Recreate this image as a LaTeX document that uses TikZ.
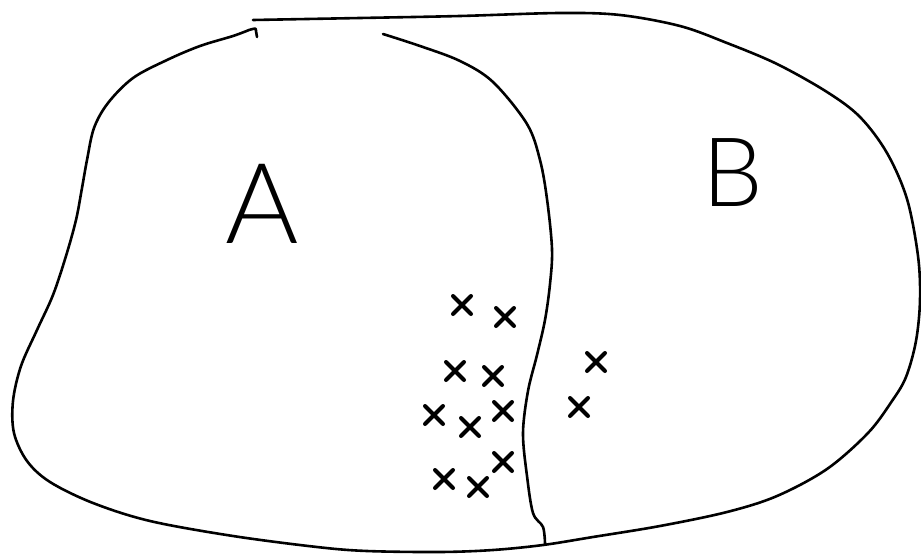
\documentclass[tikz,border=0pt]{standalone}
\usepackage{fontspec}
\newfontfamily\sketchfont{Lato Light}
\usetikzlibrary{shapes.misc}

\begin{document}
\begin{tikzpicture}[
  x=0.5pt, y=-0.5pt, line width=1.3pt, line cap=round, line join=round,
  region/.style = {font=\sketchfont\fontsize{56}{60}\selectfont, inner sep=0pt},
  crossmark/.style = {draw, cross out, line width=2pt, minimum size=7pt, inner sep=0pt},
]
  \useasboundingbox (0,0) rectangle (921,557);

  % outer boundary, open at the top left
  \draw plot[smooth, tension=0.55] coordinates {
    (253,20) (360,18) (460,16) (560,13) (620,15) (680,26) (727,43) (777,64)
    (827,92) (860,117) (887,153) (907,199) (918,256) (920,300) (916,341)
    (906,377) (892,401) (868,433) (827,469) (777,496) (727,512) (660,526)
    (593,537) (543,545) (493,550) (440,552) (367,551) (317,547) (233,536)
    (150,521) (93,503) (50,482) (27,461) (14,433) (13,401) (21,366) (37,330)
    (53,295) (66,256) (76,220) (82,188) (87,160) (94,128) (108,103) (133,78)
    (167,60) (200,46) (233,36) (249,30)}
    .. controls (256,28) .. (256,31) -- (257,37);

  % dividing line
  \draw plot[smooth, tension=0.55] coordinates {
    (383,34) (420,46) (460,61) (493,82) (527,124) (540,160) (547,199)
    (552,249) (550,284) (545,320) (537,355) (528,391) (523,433) (527,476)
    (533,513) (543,527) (545,544)};

  \node[region] (A) at (262,204) {A};
  \node[region, font=\sketchfont\fontsize{48}{52}\selectfont] (B) at (733,173) {B};

  \foreach \x/\y [count=\i] in {462/305, 505/317, 455/371, 493/376, 434/415,
      470/427, 503/411, 444/479, 478/487, 503/462, 596/362, 579/407}
    \node[crossmark] (p\i) at (\x,\y) {};
\end{tikzpicture}
\end{document}
